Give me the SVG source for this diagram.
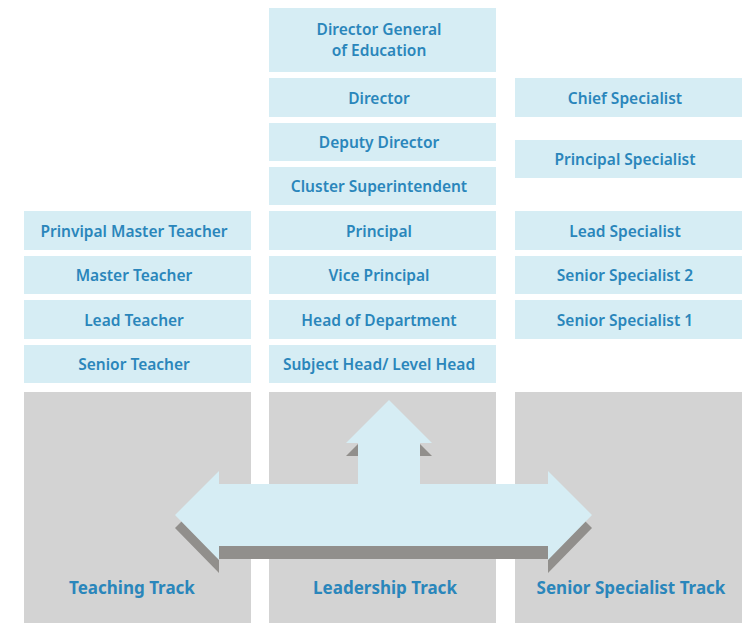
<svg xmlns="http://www.w3.org/2000/svg" width="749" height="623" viewBox="0 0 749 623">
<style>
.box{fill:#d6edf4}
.track{fill:#d3d3d3}
.t{font-family:"Noto Sans","Liberation Sans",sans-serif;font-weight:600;font-size:15.5px;fill:#2a86bb;text-anchor:middle}
.tl{font-family:"Noto Sans","Liberation Sans",sans-serif;font-weight:700;font-size:17px;fill:#2a86bb;text-anchor:middle}
</style>
<rect width="749" height="623" fill="#ffffff"/>
<g id="tracks">
<g id="teaching-track"><rect class="track" x="24" y="392" width="227" height="231"/><text class="tl" x="132" y="594">Teaching Track</text></g>
<g id="leadership-track"><rect class="track" x="269" y="392" width="227" height="231"/></g>
<g id="specialist-track"><rect class="track" x="515" y="392" width="227" height="231"/></g>
</g>
<g id="connectors">
<polygon fill="#918f8c" transform="translate(0,13)" points="175,515 219,471 219,484 358,484 358,443 346,443 389,400 432,443 420,443 420,484 548,484 548,471 592,515 548,560 548,546 219,546 219,560"/>
<polygon fill="#d6edf4" points="175,515 219,471 219,484 358,484 358,443 346,443 389,400 432,443 420,443 420,484 548,484 548,471 592,515 548,560 548,546 219,546 219,560"/>
</g>
<g id="track-labels">
<text class="tl" x="385" y="594">Leadership Track</text>
<text class="tl" x="631" y="594">Senior Specialist Track</text>
</g>
<g id="dg"><rect class="box" x="269" y="8" width="227" height="64"/><text class="t" x="379" y="35">Director General</text><text class="t" x="379" y="56">of Education</text></g>
<g id="director"><rect class="box" x="269" y="78" width="227" height="39"/><text class="t" x="379" y="103.5">Director</text></g>
<g id="deputy"><rect class="box" x="269" y="123" width="227" height="38"/><text class="t" x="379" y="148">Deputy Director</text></g>
<g id="cluster"><rect class="box" x="269" y="167" width="227" height="38"/><text class="t" x="379" y="192">Cluster Superintendent</text></g>
<g id="principal"><rect class="box" x="269" y="211" width="227" height="39"/><text class="t" x="379" y="236.5">Principal</text></g>
<g id="vice"><rect class="box" x="269" y="256" width="227" height="38"/><text class="t" x="379" y="281">Vice Principal</text></g>
<g id="hod"><rect class="box" x="269" y="300" width="227" height="39"/><text class="t" x="379" y="325.5">Head of Department</text></g>
<g id="subject"><rect class="box" x="269" y="345" width="227" height="38"/><text class="t" x="379" y="370">Subject Head/ Level Head</text></g>
<g id="pmt"><rect class="box" x="24" y="211" width="227" height="39"/><text class="t" x="134" y="236.5">Prinvipal Master Teacher</text></g>
<g id="mt"><rect class="box" x="24" y="256" width="227" height="38"/><text class="t" x="134" y="281">Master Teacher</text></g>
<g id="lt"><rect class="box" x="24" y="300" width="227" height="39"/><text class="t" x="134" y="325.5">Lead Teacher</text></g>
<g id="st"><rect class="box" x="24" y="345" width="227" height="38"/><text class="t" x="134" y="370">Senior Teacher</text></g>
<g id="cs"><rect class="box" x="515" y="78" width="227" height="39"/><text class="t" x="625" y="103.5">Chief Specialist</text></g>
<g id="ps"><rect class="box" x="515" y="140" width="227" height="38"/><text class="t" x="625" y="165">Principal Specialist</text></g>
<g id="ls"><rect class="box" x="515" y="211" width="227" height="39"/><text class="t" x="625" y="236.5">Lead Specialist</text></g>
<g id="ss2"><rect class="box" x="515" y="256" width="227" height="38"/><text class="t" x="625" y="281">Senior Specialist 2</text></g>
<g id="ss1"><rect class="box" x="515" y="300" width="227" height="39"/><text class="t" x="625" y="325.5">Senior Specialist 1</text></g>
</svg>
